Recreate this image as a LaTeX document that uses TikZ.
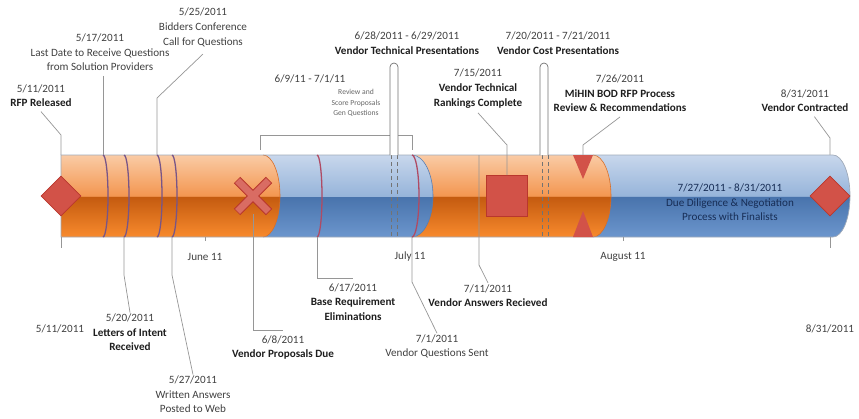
\documentclass[tikz,border=0pt]{standalone}
\usepackage{fontspec}
\setmainfont{Carlito}
\usetikzlibrary{shapes.geometric}

\definecolor{txtgray}{RGB}{64,64,64}
\definecolor{ttlblack}{RGB}{30,30,30}
\definecolor{navytxt}{RGB}{23,45,85}
\definecolor{leadgray}{RGB}{150,150,150}
\definecolor{redfill}{RGB}{210,82,72}
\definecolor{rededge}{RGB}{185,55,45}
\definecolor{purplemark}{RGB}{120,85,135}
\definecolor{redmark}{RGB}{175,75,100}
\definecolor{tubeedge}{RGB}{160,170,185}
\definecolor{oredge}{RGB}{215,110,40}
\definecolor{bledge}{RGB}{90,125,175}
\definecolor{ortop}{RGB}{250,203,165}
\definecolor{ormid}{RGB}{243,150,80}
\definecolor{ordark}{RGB}{195,90,15}
\definecolor{orbot}{RGB}{248,138,45}
\definecolor{bltop}{RGB}{200,215,236}
\definecolor{blmid}{RGB}{150,180,218}
\definecolor{bldark}{RGB}{72,115,172}
\definecolor{blbot}{RGB}{108,150,205}

\pgfdeclareverticalshading{orangetube}{100bp}{color(0bp)=(orbot); color(25bp)=(orbot); color(49.7bp)=(ordark); color(50bp)=(ormid); color(75bp)=(ortop); color(100bp)=(ortop)}
\pgfdeclareverticalshading{bluetube}{100bp}{color(0bp)=(blbot); color(25bp)=(blbot); color(49.7bp)=(bldark); color(50bp)=(blmid); color(75bp)=(bltop); color(100bp)=(bltop)}

\newcommand{\evtitle}[1]{{\bfseries\color{ttlblack}#1}}

\tikzset{
  lbl/.style={font=\fontsize{9.5}{12.5}\selectfont, text=txtgray, align=center, inner sep=1pt},
  smalllbl/.style={font=\fontsize{6.5}{9}\selectfont, text=txtgray!80, align=center, inner sep=1pt},
  lead/.style={draw=leadgray, line width=0.6pt},
  tubemark/.style={draw=purplemark, line width=1.1pt},
  bluemark/.style={draw=redmark, line width=1.1pt},
  dashline/.style={draw=black!55, dashed, line width=0.5pt},
  pill/.style={draw=black!55, fill=white, line width=0.6pt},
  diamondmark/.style={diamond, fill=redfill, draw=rededge, line width=0.6pt, minimum size=1.2cm, inner sep=0pt},
  squaremark/.style={rectangle, fill=redfill, draw=rededge, line width=0.8pt, minimum size=1.23cm, inner sep=0pt}
}

\begin{document}
\begin{tikzpicture}[x=0.03cm,y=-0.03cm]
    \useasboundingbox (0,0) rectangle (859,419);

    % points on the tube
    \coordinate (p-rfp) at (61,155);
    \coordinate (p-lastq) at (103,155);
    \coordinate (p-intent) at (124,237);
    \coordinate (p-bidders) at (157,155);
    \coordinate (p-written) at (172,237);
    \coordinate (p-proposals) at (253,214);
    \coordinate (p-basereq) at (317,237);
    \coordinate (p-questions) at (412,237);
    \coordinate (p-answers) at (479,155);
    \coordinate (p-mihin) at (583,155);
    \coordinate (p-contr) at (830,155);

    % labels above
    \node[lbl] (rfp) at (41,95.5) {5/11/2011\\\evtitle{RFP Released}};
    \node[lbl] (lastq) at (100,52.5) {5/17/2011\\Last Date to Receive Questions\\from Solution Providers};
    \node[lbl] (bidders) at (203,27.5) {5/25/2011\\Bidders Conference\\Call for Questions};
    \node[lbl] (techpres) at (407,43) {6/28/2011 - 6/29/2011\\\evtitle{Vendor Technical Presentations}};
    \node[lbl] (costpres) at (558,43) {7/20/2011 - 7/21/2011\\\evtitle{Vendor Cost Presentations}};
    \node[lbl] (reviewspan) at (310,79) {6/9/11 - 7/1/11};
    \node[smalllbl] (reviewnote) at (356,103) {Review and\\Score Proposals\\Gen Questions};
    \node[lbl] (rankings) at (478,88.5) {7/15/2011\\\evtitle{Vendor Technical}\\\evtitle{Rankings Complete}};
    \node[lbl] (mihin) at (620,93.5) {7/26/2011\\\evtitle{MiHIN BOD RFP Process}\\\evtitle{Review \& Recommendations}};
    \node[lbl] (contracted) at (805,100.5) {8/31/2011\\\evtitle{Vendor Contracted}};

    % labels below
    \node[lbl] (intent) at (130,332.5) {5/20/2011\\\evtitle{Letters of Intent}\\\evtitle{Received}};
    \node[lbl] (written) at (193,394.5) {5/27/2011\\Written Answers\\Posted to Web};
    \node[lbl] (proposals) at (283,347.5) {6/8/2011\\\evtitle{Vendor Proposals Due}};
    \node[lbl] (basereq) at (353,302) {6/17/2011\\\evtitle{Base Requirement}\\\evtitle{Eliminations}};
    \node[lbl] (questions) at (437,346.5) {7/1/2011\\Vendor Questions Sent};
    \node[lbl] (answers) at (488,295.5) {7/11/2011\\\evtitle{Vendor Answers Recieved}};
    \node[lbl] (startdate) at (60,329) {5/11/2011};
    \node[lbl] (enddate) at (830,329) {8/31/2011};
    \node[lbl] (june) at (205,257) {June 11};
    \node[lbl] (july) at (410,257) {July 11};
    \node[lbl] (august) at (623,257) {August 11};

    % leaders above (behind the tube)
    \draw[lead] ([yshift=-3pt]rfp.south) -- (61,135) -- (p-rfp);
    \draw[lead] ([yshift=-3pt]p-lastq |- lastq.south) -- (p-lastq);
    \draw[lead] ([yshift=-5pt]bidders.south) -- (157,98) -- (p-bidders);
    \draw[lead] ([yshift=-3pt]mihin.south) -- (583,145) -- (p-mihin);
    \draw[lead] ([xshift=8pt,yshift=-3pt]contracted.south) -- (830,138) -- (p-contr);
    \draw[lead] (260,150) -- (260,135) -- (412,135) -- (412,150);

    % tube, right to left
    \shade[shading=bluetube] (593,155) -- (833,155) arc[start angle=-90,end angle=90,x radius=17,y radius=41] -- (593,237) -- cycle;
    \shade[shading=orangetube] (412,155) -- (593,155) arc[start angle=-90,end angle=90,x radius=18,y radius=41] -- (412,237) -- cycle;
    \draw[oredge, line width=0.5pt] (593,155) arc[start angle=-90,end angle=90,x radius=18,y radius=41];
    \shade[shading=bluetube] (263,155) -- (412,155) arc[start angle=-90,end angle=90,x radius=21,y radius=41] -- (263,237) -- cycle;
    \draw[bledge, line width=0.5pt] (412,155) arc[start angle=-90,end angle=90,x radius=21,y radius=41];
    \shade[shading=orangetube] (61,155) -- (263,155) arc[start angle=-90,end angle=90,x radius=17,y radius=41] -- (61,237) -- cycle;
    \draw[oredge, line width=0.5pt] (263,155) arc[start angle=-90,end angle=90,x radius=17,y radius=41];
    \draw[tubeedge, line width=0.6pt] (61,155) -- (833,155) arc[start angle=-90,end angle=90,x radius=17,y radius=41] -- (61,237) -- cycle;

    % marks on the tube
    \foreach \x in {103,124,157,172}
        \draw[tubemark] (\x,155) arc[start angle=-90,end angle=90,x radius=5,y radius=41];
    \draw[bluemark] (317,155) arc[start angle=-90,end angle=90,x radius=5,y radius=41];
    \draw[bluemark] (412,155) arc[start angle=-90,end angle=90,x radius=7,y radius=41];
    \foreach \x in {391,397,542,548}
        \draw[dashline] (\x,155) -- (\x,237);
    \draw[pill] (390,155) -- (390,67) arc[start angle=180,end angle=360,radius=4] -- (398,155);
    \draw[pill] (540,155) -- (540,67) arc[start angle=180,end angle=360,radius=4] -- (548,155);

    % event shapes
    \node[diamondmark] (rfp-dia) at (61,196) {};
    \node[diamondmark] (contr-dia) at (830,196) {};
    \node[squaremark] (rank-sq) at (507,196) {};
    \draw[rededge, line width=7.6pt] (237,180) -- (269,212) (237,212) -- (269,180);
    \draw[redfill!85!white, line width=6pt] (237.6,180.6) -- (268.4,211.4) (237.6,211.4) -- (268.4,180.6);
    \fill[redfill] (573,155) -- (593,155) -- (583,179) -- cycle;
    \fill[redfill] (573,237) -- (593,237) -- (583,211) -- cycle;
    \node[lbl, text=navytxt] (diligence) at (730,202.5) {7/27/2011 - 8/31/2011\\Due Diligence \& Negotiation\\Process with Finalists};

    \draw[lead] ([yshift=-3pt]rankings.south) -- (507,145) -- (rank-sq.north);
    \draw[lead] (p-answers) -- (479,265) -- (answers.north);

    % leaders below
    \draw[lead] (p-intent) -- (124,275) -- (intent.north);
    \draw[lead] (p-written) -- (172,275) -- (written.north);
    \draw[lead] (p-proposals) |- ([yshift=3pt]proposals.north);
    \draw[lead] (p-basereq) |- ([yshift=3pt]basereq.north);
    \draw[lead] (p-questions) -- (412,282) -- (questions.north);
    \draw[lead] (61,237) -- (61,248);
    \draw[lead] (830,237) -- (830,248);
    \draw[lead] (205,237) -- (205,241);
    \draw[lead] (623,237) -- (623,241);
\end{tikzpicture}
\end{document}
